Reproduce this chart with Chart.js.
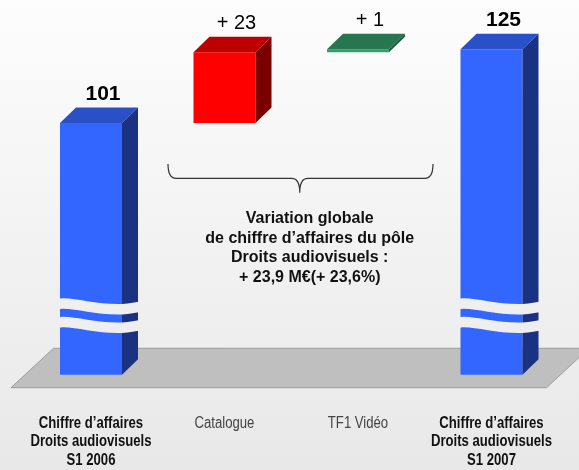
<!DOCTYPE html>
<html>
<head>
<meta charset="utf-8">
<script src="https://cdn.jsdelivr.net/npm/chart.js@4/dist/chart.umd.min.js"></script>
<style>
  html, body { margin: 0; padding: 0; background: #eeeeee; }
  #wrap { width: 579px; height: 470px; position: relative; }
</style>
</head>
<body>
<div id="wrap"><canvas id="c" width="579" height="470"></canvas></div>
<script>
// Waterfall: H1 2006 revenue, contributions, H1 2007 revenue (M€)
const categories = [
  ['Chiffre d’affaires', 'Droits audiovisuels', 'S1 2006'],
  ['Catalogue'],
  ['TF1 Vidéo'],
  ['Chiffre d’affaires', 'Droits audiovisuels', 'S1 2007']
];
const openingTotal = 101;
const changes = [23, 1];
const closingTotal = 125;
const valueLabels = ['101', '+ 23', '+ 1', '125'];
const summaryLines = [
  'Variation globale',
  'de chiffre d’affaires du pôle',
  'Droits audiovisuels :',
  '+ 23,9 M€(+ 23,6%)'
];

// Totals start from the (broken) axis floor; changes float on the running sum
const barData = [openingTotal];
let running = openingTotal;
changes.forEach(d => { barData.push([running, running + d]); running += d; });
barData.push(closingTotal);

const isTotal = [true, false, false, true];
const faceColors = {
  front: ['#3366ff', '#ff0000', '#31a06b', '#3366ff'],
  top:   ['#2a50c8', '#bd0000', '#277650', '#2a50c8'],
  side:  ['#1b3282', '#7a0000', '#1d5a3c', '#1b3282']
};
const DEPTH_X = 16, DEPTH_Y = 15.5;

function backgroundFill(ctx) {
  const g = ctx.createLinearGradient(0, 0, 0, 470);
  g.addColorStop(0, '#fdfdfd');
  g.addColorStop(1, '#e8e8e8');
  return g;
}

// condensed label face: regular sans squeezed horizontally
const NARROW = 0.82;

const decor = {
  id: 'decor',
  beforeDraw(chart) {
    const ctx = chart.ctx;
    ctx.save();
    ctx.fillStyle = backgroundFill(ctx);
    ctx.fillRect(0, 0, chart.width, chart.height);
    ctx.restore();
  },
  beforeDatasetsDraw(chart) {
    // floor plane under the columns
    const ctx = chart.ctx, b = chart.chartArea.bottom;
    const backY = b - 26.4, frontY = b + 13;
    ctx.save();
    ctx.beginPath();
    ctx.moveTo(11, frontY);
    ctx.lineTo(546.5, frontY);
    ctx.lineTo(589, backY);
    ctx.lineTo(53.5, backY);
    ctx.closePath();
    ctx.fillStyle = '#bfbfbf';
    ctx.fill();
    ctx.strokeStyle = '#9c9c9c';
    ctx.lineWidth = 1;
    ctx.stroke();
    ctx.restore();
  },
  afterDatasetsDraw(chart) {
    const ctx = chart.ctx;
    const meta = chart.getDatasetMeta(0);
    const xs = chart.scales.x;
    const bottom = chart.chartArea.bottom;

    meta.data.forEach((bar, i) => {
      const l = bar.x - bar.width / 2, r = bar.x + bar.width / 2;
      const top = Math.min(bar.y, bar.base);
      const base = Math.min(Math.max(bar.y, bar.base), bottom);
      ctx.save();
      // top face
      ctx.beginPath();
      ctx.moveTo(l, top); ctx.lineTo(r, top);
      ctx.lineTo(r + DEPTH_X, top - DEPTH_Y); ctx.lineTo(l + DEPTH_X, top - DEPTH_Y);
      ctx.closePath();
      ctx.fillStyle = faceColors.top[i]; ctx.fill();
      // side face
      ctx.beginPath();
      ctx.moveTo(r, top); ctx.lineTo(r + DEPTH_X, top - DEPTH_Y);
      ctx.lineTo(r + DEPTH_X, base - DEPTH_Y); ctx.lineTo(r, base);
      ctx.closePath();
      ctx.fillStyle = faceColors.side[i]; ctx.fill();
      ctx.restore();

      // axis-break waves across the total columns
      if (isTotal[i]) {
        const w = bar.width, xe = r + DEPTH_X + 3;
        [bottom - 77.2, bottom - 58.7].forEach(y => {
          const T = 10.5;
          ctx.save();
          ctx.beginPath();
          ctx.moveTo(l - 2, y + 1.5);
          ctx.bezierCurveTo(l + 8, y - 2, l + 35, y + 7.5, l + w, y + 6.5);
          ctx.bezierCurveTo(l + w + 8, y + 6.3, l + w + 14, y + 4.5, xe, y + 4);
          ctx.lineTo(xe, y + 4 + T);
          ctx.bezierCurveTo(l + w + 14, y + 4.5 + T, l + w + 8, y + 6.3 + T, l + w, y + 6.5 + T);
          ctx.bezierCurveTo(l + 35, y + 7.5 + T, l + 8, y - 2 + T, l - 2, y + 1.5 + T);
          ctx.closePath();
          ctx.fillStyle = backgroundFill(ctx);
          ctx.fill();
          ctx.restore();
        });
      }

      // value label above each column
      ctx.save();
      ctx.fillStyle = '#000';
      ctx.textAlign = 'center';
      ctx.textBaseline = 'alphabetic';
      ctx.font = isTotal[i] ? 'bold 21px "Liberation Sans", Arial, sans-serif'
                            : '20px "Liberation Sans", Arial, sans-serif';
      ctx.fillText(valueLabels[i], bar.x + 12, top - 23.2);
      ctx.restore();
    });

    // brace spanning the two contributions
    const x1 = xs.getPixelForValue(1), x2 = xs.getPixelForValue(2);
    const bl = x1 - 56.5, br = x2 + 75, bm = (x1 + x2) / 2 + 8.5;
    const by0 = 164, by1 = 178.3, by2 = 192.7;
    ctx.save();
    ctx.strokeStyle = '#333';
    ctx.lineWidth = 1.2;
    ctx.beginPath();
    ctx.moveTo(bl, by0);
    ctx.quadraticCurveTo(bl, by1, bl + 8, by1);
    ctx.lineTo(bm - 8, by1);
    ctx.quadraticCurveTo(bm, by1, bm, by2);
    ctx.quadraticCurveTo(bm, by1, bm + 8, by1);
    ctx.lineTo(br - 8, by1);
    ctx.quadraticCurveTo(br, by1, br, by0);
    ctx.stroke();

    // summary text under the brace
    ctx.fillStyle = '#111';
    ctx.textAlign = 'center';
    ctx.font = 'bold 16px "Liberation Sans", Arial, sans-serif';
    summaryLines.forEach((s, k) => ctx.fillText(s, bm + 10, 223.3 + k * 19.5));
    ctx.restore();

    // category labels under the floor
    categories.forEach((lines, i) => {
      const cx = xs.getPixelForValue(i);
      ctx.save();
      ctx.font = (isTotal[i] ? 'bold ' : '') + '16px "Liberation Sans", Arial, sans-serif';
      ctx.fillStyle = isTotal[i] ? '#111' : '#444';
      ctx.textAlign = 'center';
      ctx.translate(cx, 0);
      ctx.scale(NARROW, 1);
      lines.forEach((s, k) => ctx.fillText(s, 0, 427.5 + k * 18.5));
      ctx.restore();
    });
  }
};

new Chart(document.getElementById('c'), {
  type: 'bar',
  data: {
    labels: categories.map(c => c.join(' ')),
    datasets: [{
      data: barData,
      backgroundColor: faceColors.front,
      borderWidth: 0,
      barPercentage: 0.4644,
      categoryPercentage: 1
    }]
  },
  options: {
    responsive: false,
    animation: false,
    devicePixelRatio: 1,
    layout: { padding: { top: 3.2, bottom: 95.3, left: 24.25, right: 20.75 } },
    scales: {
      x: { display: false, offset: true },
      y: { display: false, min: 19, max: 140 }
    },
    plugins: { legend: { display: false }, tooltip: { enabled: false } }
  },
  plugins: [decor]
});
</script>
</body>
</html>
